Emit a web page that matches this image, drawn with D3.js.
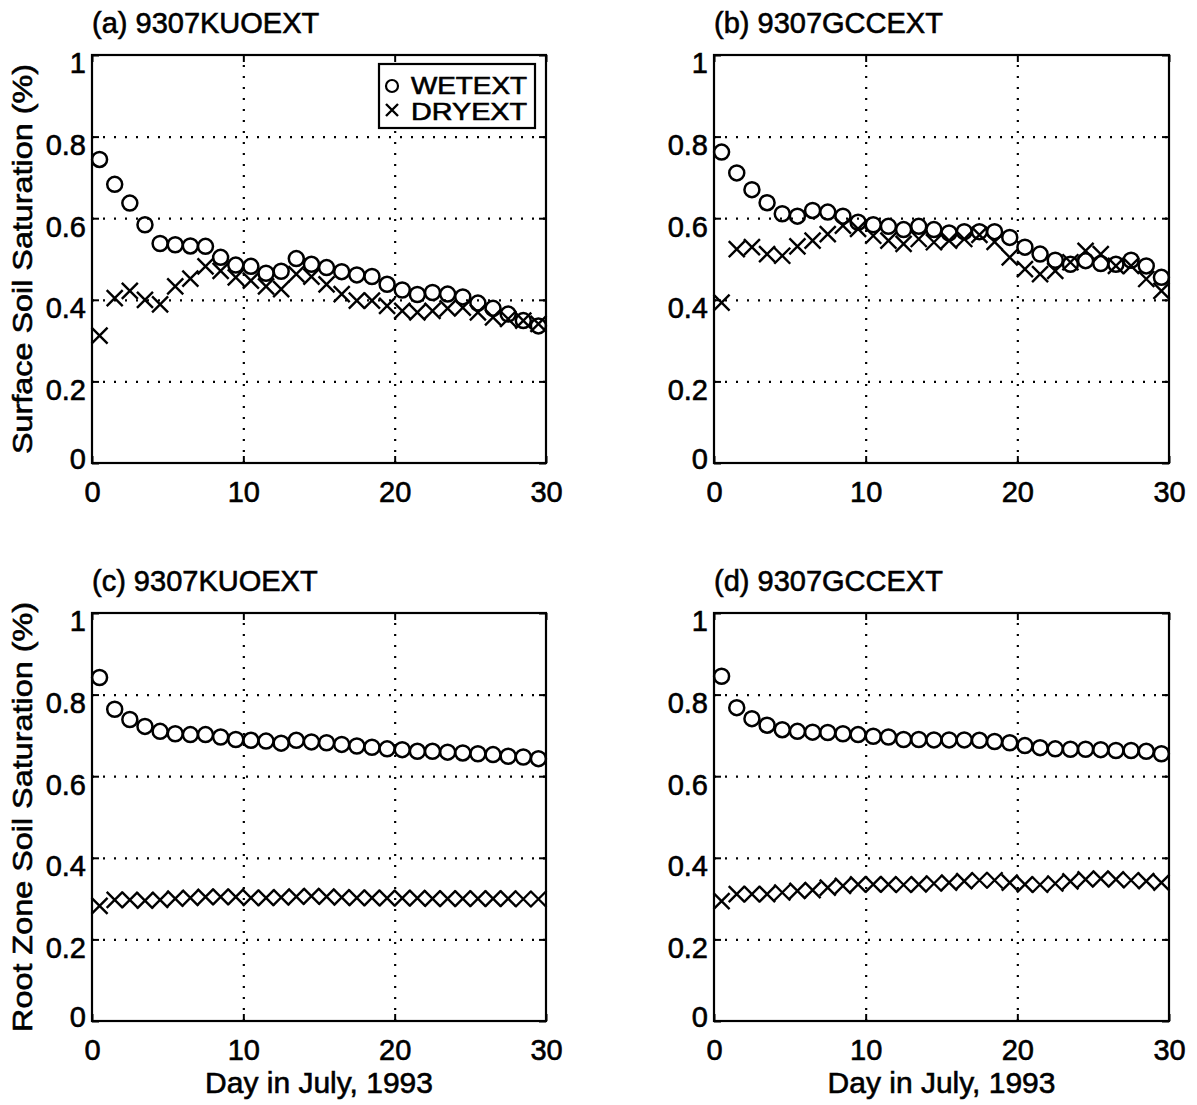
<!DOCTYPE html>
<html>
<head>
<meta charset="utf-8">
<script src="https://d3js.org/d3.v7.min.js"></script>
<style>
    body { margin: 0; background: #fff; }
    svg { display: block; }
    text { font-family: "Liberation Sans", Arial, Helvetica, sans-serif; fill: #000; stroke: #000; stroke-width: 0.6px; }
    .grid line { stroke: #000; stroke-width: 2.2; stroke-dasharray: 2,9; }
    .grid path { display: none; }
    .tick-ax line { stroke: #000; stroke-width: 2; }
    .tick-ax path { display: none; }
    .tick-ax text { font-size: 29px; }
</style>
</head>
<body>
<div id="chart"></div>
<script>

// days in July (point centres)
var days = [0.5, 1.5, 2.5, 3.5, 4.5, 5.5, 6.5, 7.5, 8.5, 9.5,
    10.5, 11.5, 12.5, 13.5, 14.5, 15.5, 16.5, 17.5, 18.5, 19.5,
    20.5, 21.5, 22.5, 23.5, 24.5, 25.5, 26.5, 27.5, 28.5, 29.5];

var xTicks = [0, 10, 20, 30];
var yTicks = [0, 0.2, 0.4, 0.6, 0.8, 1];
var yTickLabels = ["0", "0.2", "0.4", "0.6", "0.8", "1"];

var seriesNames = ["WETEXT", "DRYEXT"];

// (a) surface, KUO
var surfWetKuo = [0.744, 0.683, 0.637, 0.584, 0.538, 0.535, 0.532, 0.531, 0.504, 0.485,
    0.482, 0.465, 0.470, 0.501, 0.487, 0.479, 0.469, 0.461, 0.457, 0.438,
    0.424, 0.413, 0.418, 0.414, 0.407, 0.392, 0.379, 0.365, 0.349, 0.336];
var surfDryKuo = [0.312, 0.404, 0.422, 0.400, 0.389, 0.433, 0.452, 0.482, 0.471, 0.455,
    0.447, 0.433, 0.426, 0.463, 0.457, 0.438, 0.414, 0.398, 0.398, 0.385,
    0.373, 0.369, 0.373, 0.379, 0.381, 0.369, 0.357, 0.353, 0.349, 0.341];

// (b) surface, GCC
var surfWetGcc = [0.762, 0.711, 0.670, 0.638, 0.611, 0.605, 0.619, 0.615, 0.605, 0.590,
    0.584, 0.580, 0.572, 0.580, 0.572, 0.564, 0.567, 0.567, 0.567, 0.553,
    0.529, 0.512, 0.497, 0.487, 0.496, 0.489, 0.487, 0.497, 0.483, 0.455];
var surfDryGcc = [0.393, 0.524, 0.529, 0.512, 0.508, 0.531, 0.545, 0.561, 0.582, 0.574,
    0.557, 0.545, 0.537, 0.549, 0.541, 0.545, 0.549, 0.559, 0.542, 0.504,
    0.475, 0.463, 0.471, 0.492, 0.520, 0.512, 0.483, 0.483, 0.451, 0.422];

// (c) root zone, KUO
var rootWetKuo = [0.842, 0.764, 0.739, 0.722, 0.710, 0.704, 0.702, 0.702, 0.696, 0.690,
    0.688, 0.686, 0.681, 0.688, 0.684, 0.682, 0.678, 0.674, 0.671, 0.667,
    0.665, 0.661, 0.661, 0.659, 0.657, 0.655, 0.653, 0.649, 0.647, 0.643];
var rootDryKuo = [0.282, 0.297, 0.297, 0.295, 0.297, 0.300, 0.302, 0.304, 0.304, 0.304,
    0.302, 0.302, 0.303, 0.305, 0.306, 0.305, 0.303, 0.302, 0.302, 0.301,
    0.301, 0.301, 0.300, 0.300, 0.300, 0.300, 0.300, 0.300, 0.299, 0.299];

// (d) root zone, GCC
var rootWetGcc = [0.845, 0.768, 0.741, 0.725, 0.714, 0.710, 0.708, 0.707, 0.704, 0.702,
    0.698, 0.696, 0.690, 0.690, 0.689, 0.689, 0.689, 0.688, 0.685, 0.682,
    0.675, 0.670, 0.667, 0.666, 0.666, 0.665, 0.663, 0.663, 0.661, 0.655];
var rootDryGcc = [0.294, 0.311, 0.311, 0.311, 0.315, 0.319, 0.321, 0.327, 0.331, 0.335,
    0.335, 0.335, 0.334, 0.335, 0.337, 0.339, 0.343, 0.345, 0.345, 0.339,
    0.335, 0.334, 0.337, 0.342, 0.347, 0.349, 0.347, 0.345, 0.343, 0.339];


var svg = d3.select("#chart").append("svg")
    .attr("width", 1197)
    .attr("height", 1105);


/*
 * SoilPanel - one of the four sub plots
 */
SoilPanel = function(_svg, _opts, _wet, _dry){
    this.svg = _svg;
    this.opts = _opts;
    this.wet = _wet;
    this.dry = _dry;

    this.initVis();
}

SoilPanel.prototype.initVis = function(){
    var vis = this;
    var o = vis.opts;

    vis.width = o.width;
    vis.height = o.height;

    vis.g = vis.svg.append("g")
        .attr("transform", "translate(" + o.left + "," + o.top + ")");

    vis.x = d3.scaleLinear().domain([0, 30]).range([0, vis.width]);
    vis.y = d3.scaleLinear().domain([0, 1]).range([vis.height, 0]);

    // dotted grid
    vis.g.append("g")
        .attr("class", "grid")
        .attr("transform", "translate(0," + vis.height + ")")
        .call(d3.axisBottom(vis.x).tickValues([10, 20]).tickSize(-vis.height).tickFormat(""));

    vis.g.append("g")
        .attr("class", "grid")
        .call(d3.axisLeft(vis.y).tickValues([0.2, 0.4, 0.6, 0.8]).tickSize(-vis.width).tickFormat(""));

    // inward ticks, all four sides
    var xAx = vis.g.append("g")
        .attr("class", "tick-ax")
        .attr("transform", "translate(0," + vis.height + ")")
        .call(d3.axisBottom(vis.x).tickValues(xTicks).tickSize(-7).tickPadding(18).tickFormat(d3.format("d")));
    xAx.selectAll("text").attr("dy", "0.71em");

    var yAx = vis.g.append("g")
        .attr("class", "tick-ax")
        .call(d3.axisLeft(vis.y).tickValues(yTicks).tickSize(-7).tickPadding(6)
            .tickFormat(function(d, i){ return yTickLabels[i]; }));
    yAx.selectAll("text").attr("dy", function(d){ return d === 0 ? "0.2em" : "0.62em"; });

    vis.g.append("g")
        .attr("class", "tick-ax")
        .attr("transform", "translate(" + vis.width + ",0)")
        .call(d3.axisRight(vis.y).tickValues(yTicks).tickSize(-7).tickFormat(""));

    vis.g.append("g")
        .attr("class", "tick-ax")
        .call(d3.axisTop(vis.x).tickValues(xTicks).tickSize(-7).tickFormat(""));

    // frame
    vis.g.append("rect")
        .attr("width", vis.width)
        .attr("height", vis.height)
        .attr("fill", "none")
        .attr("stroke", "#000")
        .attr("stroke-width", 2.2);

    // title
    vis.g.append("text")
        .attr("x", 0)
        .attr("y", -22)
        .style("font-size", "29px")
        .text(o.title);

    if (o.ylabel) {
        vis.g.append("text")
            .attr("transform", "translate(-60," + (vis.height / 2) + ") rotate(-90)")
            .attr("text-anchor", "middle")
            .attr("textLength", o.ylabelLength)
            .attr("lengthAdjust", "spacingAndGlyphs")
            .style("font-size", "28px")
            .text(o.ylabel);
    }

    if (o.xlabel) {
        vis.g.append("text")
            .attr("x", vis.width / 2)
            .attr("y", vis.height + 72)
            .attr("text-anchor", "middle")
            .style("font-size", "30px")
            .text(o.xlabel);
    }

    vis.updateVis();
}

SoilPanel.prototype.updateVis = function(){
    var vis = this;

    vis.g.selectAll(".wet")
        .data(vis.wet)
        .enter().append("circle")
        .attr("class", "wet")
        .attr("cx", function(d, i){ return vis.x(days[i]); })
        .attr("cy", function(d){ return vis.y(d); })
        .attr("r", 7.5)
        .attr("fill", "none")
        .attr("stroke", "#000")
        .attr("stroke-width", 2.5);

    vis.g.selectAll(".dry")
        .data(vis.dry)
        .enter().append("path")
        .attr("class", "dry")
        .attr("transform", function(d, i){ return "translate(" + vis.x(days[i]) + "," + vis.y(d) + ")"; })
        .attr("d", "M-8,-8L8,8M-8,8L8,-8")
        .attr("fill", "none")
        .attr("stroke", "#000")
        .attr("stroke-width", 2.4);

    if (vis.opts.legend) {
        var lg = vis.g.append("g")
            .attr("transform", "translate(" + (vis.width - 167) + ",9)");

        lg.append("rect")
            .attr("width", 156)
            .attr("height", 64)
            .attr("fill", "#fff")
            .attr("stroke", "#000")
            .attr("stroke-width", 2.2);

        lg.append("circle")
            .attr("cx", 13).attr("cy", 22).attr("r", 6)
            .attr("fill", "none").attr("stroke", "#000").attr("stroke-width", 2.2);

        lg.append("path")
            .attr("d", "M7,40L19,52M7,52L19,40")
            .attr("stroke", "#000").attr("stroke-width", 2.4);

        lg.selectAll(".lgtext")
            .data(seriesNames)
            .enter().append("text")
            .attr("class", "lgtext")
            .attr("x", 32)
            .attr("y", function(d, i){ return 30 + i * 26; })
            .attr("textLength", 116)
            .attr("lengthAdjust", "spacingAndGlyphs")
            .style("font-size", "24px")
            .text(function(d){ return d; });
    }
}


var panelA = new SoilPanel(svg, {left: 92, top: 55, width: 454, height: 408,
    title: "(a) 9307KUOEXT", ylabel: "Surface Soil Saturation (%)", ylabelLength: 390, legend: true},
    surfWetKuo, surfDryKuo);

var panelB = new SoilPanel(svg, {left: 714, top: 55, width: 455, height: 408,
    title: "(b) 9307GCCEXT"},
    surfWetGcc, surfDryGcc);

var panelC = new SoilPanel(svg, {left: 92, top: 613, width: 454, height: 408,
    title: "(c) 9307KUOEXT", ylabel: "Root Zone Soil Saturation (%)", ylabelLength: 430,
    xlabel: "Day in July, 1993"},
    rootWetKuo, rootDryKuo);

var panelD = new SoilPanel(svg, {left: 714, top: 613, width: 455, height: 408,
    title: "(d) 9307GCCEXT", xlabel: "Day in July, 1993"},
    rootWetGcc, rootDryGcc);

</script>
</body>
</html>
